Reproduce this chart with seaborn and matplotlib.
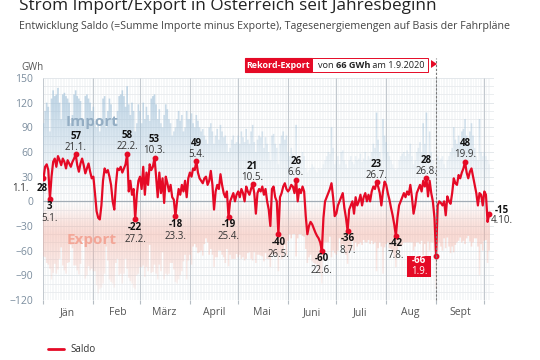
import numpy as np
import pandas as pd
import matplotlib
matplotlib.use('Agg')
import matplotlib.pyplot as plt
import matplotlib.dates as mdates
from matplotlib.path import Path
from matplotlib.patches import Rectangle, Polygon
from matplotlib.lines import Line2D
import seaborn as sns

# ---------------- data (GWh per day, 1.1.2020 - 4.10.2020) ----------------
saldo_jan = [28, 42, 45, 38, 3, 30, 48, 52, 42, 55, 50, 44, 52, 48, 40, 50, 46, 42, 48, 52,
             57, 44, 36, 46, 52, 44, 34, 40, 46, 36, 28]
saldo_feb = [30, 10, -12, -20, -22, -5, 25, 40, 35, 38, 30, 20, 0, -10, 20, 40, 38, 42, 35, 40,
             45, 58, 12, 25, 8, 15, -22, 8, 25]
saldo_mar = [30, 15, 42, 8, 35, 20, 45, 38, 42, 53, 30, 5, 35, 10, 28, -2, 30, 22, 12, 20,
             5, 2, -18, 0, 15, 8, 20, 12, 25, 5, 28]
saldo_apr = [35, 30, 40, 38, 49, 35, 28, 25, 22, 28, 30, 20, 25, 37, 20, -10, 12, 20, 15, 33,
             20, 10, 5, 12, -19, 0, 5, 10, 0, 8]
saldo_may = [12, 5, 15, 10, 0, 18, 12, 8, 15, 21, 10, -15, 10, 15, 12, 18, 8, 15, 0, -10,
             -30, 15, 18, 5, 0, -40, 5, 10, 18, 22, 15]
saldo_jun = [12, 15, 20, 18, 10, 26, 0, 15, 10, 18, 12, -18, -40, -30, -25, -28, -33, -38, -42, -45,
             -50, -60, -20, 0, 5, 10, 15, 22, 5, -18]
saldo_jul = [-15, -5, 0, 5, 10, -8, -20, -36, -10, -5, 0, -15, 5, -5, 0, 8, -5, 5, 10, 0,
             8, 0, 12, 18, 15, 23, 18, 10, -5, 12, 24]
saldo_aug = [20, 10, 2, -8, -17, -28, -42, -20, -5, 0, 5, 10, 5, 12, 8, 20, 5, -15, -5, 10,
             15, 20, 12, 25, 18, 28, 6, 25, 10, 0, -20]
saldo_sep = [-66, -5, 0, -2, -5, 0, -17, 6, 0, -3, 10, 28, 22, 20, 32, 28, 35, 40, 48, 35,
             28, 36, 40, 30, 20, 10, -5, 10, 8, -5]
saldo_oct = [12, 8, -25, -15]

import_jan = [95, 110, 120, 115, 85, 125, 135, 128, 130, 138, 120, 100, 130, 132, 128, 125, 120, 95, 105, 130,
              135, 128, 125, 122, 100, 92, 128, 130, 125, 120, 110]
import_feb = [115, 95, 90, 92, 85, 100, 125, 128, 90, 110, 125, 118, 100, 95, 95, 110, 128, 130, 135, 128,
              115, 140, 118, 105, 120, 110, 85, 95, 118]
import_mar = [110, 95, 120, 100, 115, 105, 98, 125, 128, 130, 118, 100, 112, 95, 90, 105, 118, 112, 100, 95,
              80, 85, 90, 100, 110, 98, 105, 85, 90, 110, 100]
import_apr = [100, 107, 95, 90, 105, 98, 90, 85, 88, 80, 75, 70, 90, 95, 85, 70, 80, 88, 75, 93,
              85, 78, 80, 70, 60, 65, 75, 80, 70, 72]
import_may = [80, 70, 85, 78, 72, 88, 75, 70, 85, 93, 72, 60, 75, 80, 78, 85, 65, 78, 70, 60,
              50, 80, 82, 70, 65, 45, 70, 80, 85, 75, 80]
import_jun = [60, 55, 65, 58, 50, 93, 45, 55, 50, 60, 55, 40, 35, 38, 40, 45, 42, 38, 35, 40,
              38, 40, 45, 50, 55, 60, 58, 90, 65, 45]
import_jul = [50, 55, 45, 60, 62, 50, 45, 40, 50, 55, 48, 45, 55, 50, 52, 58, 48, 52, 60, 50,
              55, 52, 60, 70, 65, 108, 75, 60, 50, 100, 80]
import_aug = [72, 60, 55, 50, 45, 40, 38, 40, 50, 55, 58, 60, 55, 62, 58, 70, 55, 45, 50, 60,
              65, 72, 60, 95, 70, 108, 55, 85, 60, 50, 40]
import_sep = [40, 55, 50, 52, 55, 45, 40, 50, 55, 60, 65, 90, 75, 70, 80, 72, 85, 88, 100, 80,
              70, 85, 95, 80, 65, 55, 50, 100, 60, 55]
import_oct = [60, 55, 50, 45]

export_jan = [-67, -68, -75, -77, -82, -95, -87, -76, -88, -83, -70, -56, -78, -84, -88, -75, -74, -53, -57, -78,
              -78, -84, -89, -76, -48, -48, -94, -90, -79, -84, -82]
export_feb = [-85, -85, -102, -112, -107, -105, -100, -88, -55, -72, -95, -98, -100, -105, -75, -70, -90, -88, -100, -88,
              -70, -82, -93, -97, -100, -105, -107, -90, -88]
export_mar = [-80, -80, -78, -92, -80, -85, -53, -87, -86, -77, -88, -95, -77, -85, -62, -95, -88, -90, -88, -75,
              -75, -83, -98, -100, -95, -90, -85, -73, -65, -95, -72]
export_apr = [-65, -77, -55, -52, -56, -63, -62, -60, -66, -52, -45, -50, -65, -58, -65, -80, -68, -68, -60, -60,
              -65, -68, -75, -58, -79, -65, -70, -70, -70, -64]
export_may = [-68, -65, -70, -68, -72, -70, -63, -62, -70, -72, -62, -75, -65, -65, -66, -67, -73, -63, -70, -70,
              -80, -65, -64, -65, -65, -85, -65, -70, -67, -53, -65]
export_jun = [-48, -40, -45, -40, -40, -67, -45, -40, -40, -42, -43, -58, -75, -68, -65, -73, -75, -76, -77, -85,
              -88, -100, -65, -50, -50, -50, -43, -68, -60, -63]
export_jul = [-65, -60, -45, -55, -52, -58, -65, -76, -60, -60, -48, -60, -50, -55, -52, -50, -53, -47, -50, -50,
              -47, -52, -48, -52, -50, -85, -57, -50, -55, -88, -56]
export_aug = [-52, -50, -57, -58, -62, -68, -80, -60, -55, -55, -53, -50, -50, -50, -50, -50, -50, -60, -55, -50,
              -50, -52, -48, -70, -52, -80, -49, -60, -50, -50, -60]
export_sep = [-106, -60, -50, -55, -60, -45, -57, -44, -55, -63, -55, -62, -53, -50, -48, -44, -50, -48, -52, -45,
              -42, -49, -55, -50, -45, -45, -55, -90, -52, -60]
export_oct = [-48, -47, -75, -60]

month_labels = ['Jän', 'Feb', 'März', 'April', 'Mai', 'Juni', 'Juli', 'Aug', 'Sept']

# annotated extremes: date, placement
ann_dates = ['2020-01-01', '2020-01-05', '2020-01-21', '2020-02-22', '2020-02-27', '2020-03-10',
             '2020-03-23', '2020-04-05', '2020-04-25', '2020-05-10', '2020-05-26', '2020-06-06',
             '2020-06-22', '2020-07-08', '2020-07-26', '2020-08-07', '2020-08-26', '2020-09-01',
             '2020-09-19', '2020-10-04']
ann_place = ['left', 'below', 'above', 'above', 'below', 'above',
             'below', 'above', 'below', 'above', 'below', 'above',
             'below', 'below', 'above', 'below', 'above', 'record',
             'above', 'right']

saldo = (saldo_jan + saldo_feb + saldo_mar + saldo_apr + saldo_may + saldo_jun + saldo_jul
         + saldo_aug + saldo_sep + saldo_oct)
imports = (import_jan + import_feb + import_mar + import_apr + import_may + import_jun + import_jul
           + import_aug + import_sep + import_oct)
exports = (export_jan + export_feb + export_mar + export_apr + export_may + export_jun + export_jul
           + export_aug + export_sep + export_oct)
dates = pd.date_range('2020-01-01', periods=len(saldo), freq='D')
df = pd.DataFrame({'Datum': dates, 'Saldo': saldo, 'Import': imports, 'Export': exports})

# ---------------- style ----------------
sns.set_theme(style='white')
plt.rcParams['font.family'] = ['Open Sans', 'DejaVu Sans']

W, H = 540, 360
RED = '#e50a26'


def fx(x):
    return x / W


def fy(y):
    return 1 - y / H


fig = plt.figure(figsize=(5.4, 3.6), dpi=100)
fig.patch.set_facecolor('white')
ax = fig.add_axes([fx(43), fy(300), (494 - 43) / W, (300 - 78) / H])
ax.set_facecolor('white')

xmin = mdates.date2num(pd.Timestamp('2020-01-01')) - 0.3
xmax = mdates.date2num(pd.Timestamp('2020-10-07'))

# grid
month_starts = pd.date_range('2020-01-01', '2020-10-01', freq='MS')
ax.vlines(df['Datum'], -120, 150, color='#f2f4f6', lw=0.5, zorder=0)
for y in range(-120, 151, 10):
    ax.axhline(y, color='#e8ebee' if y % 30 else '#dfe4e8', lw=0.6, zorder=0.2)
ax.vlines(month_starts, -120, 150, color='#c3c9cf', lw=0.8, zorder=0.5)


def gradient_bars(values, rgb, ys, alphas, y0, y1):
    bars = ax.bar(df['Datum'], values, width=1.0, color='none', linewidth=0, zorder=1)
    paths = [p.get_patch_transform().transform_path(p.get_path()) for p in bars.patches]
    comp = Path.make_compound_path(*paths)
    yy = np.linspace(y0, y1, 256)
    a = np.interp(yy, ys, alphas)
    img = np.zeros((256, 1, 4))
    img[:, 0, 0] = rgb[0]
    img[:, 0, 1] = rgb[1]
    img[:, 0, 2] = rgb[2]
    img[:, 0, 3] = a
    im = ax.imshow(img, extent=[xmin, xmax, y0, y1], origin='lower', aspect='auto',
                   zorder=1, interpolation='bilinear')
    im.set_clip_path(comp, ax.transData)


gradient_bars(df['Import'], (0.62, 0.75, 0.85), [0, 20, 50, 80, 110, 140, 150],
              [0.0, 0.03, 0.18, 0.38, 0.55, 0.65, 0.65], 0, 150)
gradient_bars(df['Export'], (0.96, 0.68, 0.62), [-120, -90, -60, -40, -25, -10, 0],
              [0.08, 0.2, 0.35, 0.45, 0.32, 0.1, 0.02], -120, 0)

ax.axhline(0, color='#a3adb6', lw=0.9, zorder=2)

sns.lineplot(data=df, x='Datum', y='Saldo', color=RED, lw=1.6, ax=ax, zorder=5, legend=False)

ax.text(mdates.date2num(pd.Timestamp('2020-01-31')), 97, 'Import', ha='center', va='center',
        fontsize=11, fontweight='bold', color='#93adc3', zorder=3)
ax.text(mdates.date2num(pd.Timestamp('2020-01-31')), -47, 'Export', ha='center', va='center',
        fontsize=11, fontweight='bold', color='#f3a697', zorder=3)

ax.set_xlim(xmin, xmax)
ax.set_ylim(-120, 150)

# ticks
ax.set_yticks(range(-120, 151, 30))
ax.tick_params(axis='y', length=0, pad=7, labelsize=7.5, labelcolor='#7b8d9e')
mid_months = [m + pd.Timedelta(days=15) for m in month_starts[:9]]
ax.set_xticks(mid_months)
ax.set_xticklabels(month_labels)
ax.set_xticks(month_starts, minor=True)
ax.tick_params(axis='x', which='major', length=0, pad=5, labelsize=7.5, labelcolor='#555555')
ax.tick_params(axis='x', which='minor', length=3, width=0.8, color='#b5bcc3', bottom=True)
ax.set_xlabel('')
ax.set_ylabel('')
for s in ax.spines.values():
    s.set_visible(False)

# annotations
P = 0.72  # px -> pt
for d, place in zip(ann_dates, ann_place):
    ts = pd.Timestamp(d)
    v = float(df.loc[df['Datum'] == ts, 'Saldo'].iloc[0])
    val = f'{int(v)}'
    lab = f'{ts.day}.{ts.month}.'
    kw = dict(xy=(ts, v), textcoords='offset points', fontsize=7, zorder=7)
    ax.plot([ts], [v], 'o', ms=3.2, color=RED, zorder=6)
    if place == 'above':
        ax.annotate(val, xytext=(0, 18 * P), ha='center', va='center', fontweight='bold', color='#111', **kw)
        ax.annotate(lab, xytext=(0, 7 * P), ha='center', va='center', color='#333', **kw)
    elif place == 'below':
        ax.annotate(val, xytext=(0, -8 * P), ha='center', va='center', fontweight='bold', color='#111', **kw)
        ax.annotate(lab, xytext=(0, -20 * P), ha='center', va='center', color='#333', **kw)
    elif place == 'left':
        ax.annotate(val, xytext=(4 * P, -10 * P), ha='right', va='center', fontweight='bold', color='#111', **kw)
        ax.annotate(lab, xytext=(-15 * P, -10 * P), ha='right', va='center', color='#333', **kw)
    elif place == 'right':
        ax.annotate(val, xytext=(13 * P, 3 * P), ha='center', va='center', fontweight='bold', color='#111', **kw)
        ax.annotate(lab, xytext=(13 * P, -7 * P), ha='center', va='center', color='#333', **kw)
    elif place == 'record':
        px, py = ax.transData.transform((mdates.date2num(ts), v))
        fx0, fy0 = fig.transFigure.inverted().transform((px - 29, py - 21))
        ax.add_artist(Rectangle((fx0, fy0), 24 / W, 21 / H, transform=fig.transFigure,
                                facecolor=RED, edgecolor='none', zorder=6.5, clip_on=False))
        ax.annotate(val, xytext=(-17 * P, -5 * P), ha='center', va='center', fontweight='bold',
                    color='white', **kw)
        ax.annotate(lab, xytext=(-17 * P, -15.5 * P), ha='center', va='center', color='white', **kw)

# Rekord-Export header
sep1 = pd.Timestamp('2020-09-01')
ax.axvline(sep1, ymin=0, ymax=1 + 20 / 222, clip_on=False, color='#777777', lw=0.8,
           ls=(0, (2, 1.5)), zorder=6)
fig.add_artist(Rectangle((fx(245), fy(72)), 67 / W, 14 / H, transform=fig.transFigure,
                         facecolor=RED, edgecolor=RED, lw=0.8))
fig.add_artist(Rectangle((fx(312), fy(72)), 116 / W, 14 / H, transform=fig.transFigure,
                         facecolor='white', edgecolor=RED, lw=0.7))
fig.text(fx(278.5), fy(65), 'Rekord-Export', ha='center', va='center', fontsize=6.4,
         fontweight='bold', color='white')
renderer = fig.canvas.get_renderer()
xcur = 318
for part, wt in [('von ', 'normal'), ('66 GWh', 'bold'), (' am 1.9.2020', 'normal')]:
    t = fig.text(fx(xcur), fy(65), part, ha='left', va='center', fontsize=6.6, fontweight=wt,
                 color='#222')
    xcur += t.get_window_extent(renderer).width
fig.add_artist(Polygon([(fx(431), fy(60)), (fx(431), fy(68)), (fx(437), fy(64))], closed=True,
                       transform=fig.transFigure, facecolor=RED, edgecolor='none'))

# titles
fig.text(fx(19), fy(10), 'Strom Import/Export in Österreich seit Jahresbeginn', ha='left',
         va='baseline', fontsize=12.3, color='#222222')
fig.text(fx(19), fy(26), 'Entwicklung Saldo (=Summe Importe minus Exporte), Tagesenergiemengen auf Basis der Fahrpläne',
         ha='left', va='center', fontsize=7.7, color='#444444')
fig.text(fx(21), fy(67), 'GWh', ha='left', va='center', fontsize=7, color='#555555')

# legend
fig.add_artist(Line2D([fx(48), fx(64)], [fy(349), fy(349)], transform=fig.transFigure,
                      color=RED, lw=2))
fig.text(fx(70), fy(349), 'Saldo', ha='left', va='center', fontsize=7, color='#333333')

fig.savefig('out.png', dpi=100, facecolor='white')
